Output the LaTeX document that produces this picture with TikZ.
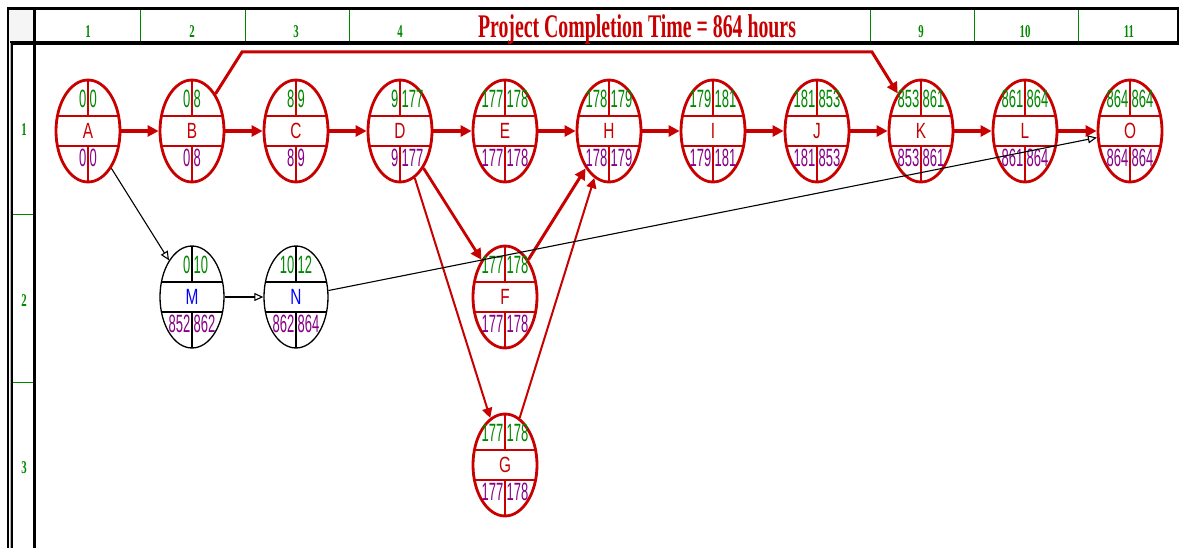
\documentclass[tikz,border=0pt]{standalone}
\usepackage{fontspec}
\setmainfont{Liberation Serif}
\newfontfamily\numfont[FakeStretch=0.52]{Liberation Sans}
\newfontfamily\letfont[FakeStretch=0.7]{Liberation Sans}
\newfontfamily\hdrfont[FakeStretch=0.6]{Liberation Serif}
\usetikzlibrary{arrows.meta,shapes.geometric}
\definecolor{critred}{RGB}{200,0,0}
\definecolor{esgreen}{RGB}{0,135,0}
\definecolor{lspurple}{RGB}{135,0,135}
\definecolor{hdrgreen}{RGB}{0,135,0}
\definecolor{freeblue}{RGB}{0,0,255}
\tikzset{
  actshape/.style={ellipse, minimum width=64pt, minimum height=102pt, inner sep=0pt},
  critnode/.style={actshape, draw=critred, line width=2.8pt},
  freenode/.style={actshape, draw=black, line width=1.3pt},
  critinner/.style={draw=critred, line width=1.3pt},
  freeinner/.style={draw=black, line width=1.3pt},
  crittext/.style={text=critred},
  freetext/.style={text=freeblue},
  numtext/.style={inner sep=0pt, font={\numfont\fontsize{25}{25}\selectfont}},
  lettext/.style={inner sep=0pt, font={\letfont\fontsize{22}{22}\selectfont}},
  critedge/.style={draw=critred, line width=3.5pt, -{Triangle[length=11pt,width=11pt]}},
  critthin/.style={draw=critred, line width=2pt, -{Triangle[length=10pt,width=10pt]}},
  freeedge/.style={draw=black, line width=1.1pt, -{Triangle[open,length=9pt,width=8pt]}},
  collabel/.style={anchor=base, inner sep=0pt, text=hdrgreen, font={\hdrfont\bfseries\fontsize{18}{18}\selectfont}},
  titlelabel/.style={anchor=base, inner sep=0pt, text=critred, font={\hdrfont\bfseries\fontsize{33}{33}\selectfont}},
  frameline/.style={draw=black},
  gridline/.style={draw=hdrgreen, line width=1pt}
}
% #1 name, #2 x, #3 y, #4 letter, #5 ES, #6 EF, #7 LS, #8 LF, #9 kind (crit/free)
\newcommand\actnode[9]{%
  \begin{scope}[shift={(#2,#3)}]
    \node[#9node] (#1) at (0,0) {};
    \draw[#9inner] (-30.5,-15) -- (30.5,-15) (-30.5,15) -- (30.5,15)
                   (0,-51) -- (0,-15) (0,15) -- (0,51);
    \node[numtext, text=esgreen, anchor=east] (#1es) at (-1.5,-32) {#5};
    \node[numtext, text=esgreen, anchor=west] (#1ef) at (1.5,-32) {#6};
    \node[numtext, text=lspurple, anchor=east] (#1ls) at (-1.5,27) {#7};
    \node[numtext, text=lspurple, anchor=west] (#1lf) at (1.5,27) {#8};
    \node[lettext, #9text] (#1lab) at (0,0) {#4};
  \end{scope}}
\begin{document}
\begin{tikzpicture}[x=1pt,y=-1pt]
\useasboundingbox (0,0) rectangle (1179,548);
% frame
\fill[gray!8] (9,10.5) rectangle (33,41.5);
\draw[frameline, line width=3pt] (7,9) -- (1179,9);
\draw[frameline, line width=4pt] (10,43) -- (1179,43);
\draw[frameline, line width=2pt] (8,8) -- (8,548);
\draw[frameline, draw=gray!60, line width=1pt] (10,43) -- (10,548);
\draw[frameline, line width=2pt] (12,43) -- (12,548);
\draw[frameline, line width=3pt] (34,9) -- (34,548);
\draw[frameline, line width=1.5pt] (1178,9) -- (1178,43);
\foreach \x in {140,245,349,870,974,1078} \draw[gridline] (\x,10.5) -- (\x,41);
\draw[gridline] (13,215) -- (32.5,215);
\draw[gridline] (13,382) -- (32.5,382);
% header labels
\node[collabel] (c1) at (88,38) {1};
\node[collabel] (c2) at (192,38) {2};
\node[collabel] (c3) at (296,38) {3};
\node[collabel] (c4) at (400,38) {4};
\node[collabel] (c9) at (921,38) {9};
\node[collabel] (c10) at (1025,38) {10};
\node[collabel] (c11) at (1129,38) {11};
\node[titlelabel] (title) at (637,38) {Project Completion Time = 864 hours};
\node[collabel] (r1) at (24,136) {1};
\node[collabel] (r2) at (24,307) {2};
\node[collabel] (r3) at (24,473) {3};
% activities
\actnode{A}{88}{131}{A}{0}{0}{0}{0}{crit}
\actnode{B}{192}{131}{B}{0}{8}{0}{8}{crit}
\actnode{C}{296}{131}{C}{8}{9}{8}{9}{crit}
\actnode{D}{400}{131}{D}{9}{177}{9}{177}{crit}
\actnode{E}{505}{131}{E}{177}{178}{177}{178}{crit}
\actnode{H}{609}{131}{H}{178}{179}{178}{179}{crit}
\actnode{I}{713}{131}{I}{179}{181}{179}{181}{crit}
\actnode{J}{817}{131}{J}{181}{853}{181}{853}{crit}
\actnode{K}{921}{131}{K}{853}{861}{853}{861}{crit}
\actnode{L}{1025}{131}{L}{861}{864}{861}{864}{crit}
\actnode{O}{1130}{131}{O}{864}{864}{864}{864}{crit}
\actnode{M}{192}{297}{M}{0}{10}{852}{862}{free}
\actnode{N}{296}{297}{N}{10}{12}{862}{864}{free}
\actnode{F}{505}{297}{F}{177}{178}{177}{178}{crit}
\actnode{G}{505}{465}{G}{177}{178}{177}{178}{crit}
% connectors
\draw[critedge] (A) -- (B);
\draw[critedge] (B) -- (C);
\draw[critedge] (C) -- (D);
\draw[critedge] (D) -- (E);
\draw[critedge] (E) -- (H);
\draw[critedge] (H) -- (I);
\draw[critedge] (I) -- (J);
\draw[critedge] (J) -- (K);
\draw[critedge] (K) -- (L);
\draw[critedge] (L) -- (O);
\coordinate (bk1) at (242,52);
\coordinate (bk2) at (872,52);
\draw[critedge, line width=3pt] (B) -- (bk1) -- (bk2) -- (K);
\draw[critedge, line width=2.8pt] (D) -- (F);
\draw[critthin] (D) -- (G);
\draw[critedge, line width=3pt] (F) -- (H);
\draw[critthin] (G) -- (H);
\draw[freeedge] (A) -- (M);
\draw[freeedge] (M) -- (N);
\draw[freeedge] (N) -- (O);
\end{tikzpicture}
\end{document}
